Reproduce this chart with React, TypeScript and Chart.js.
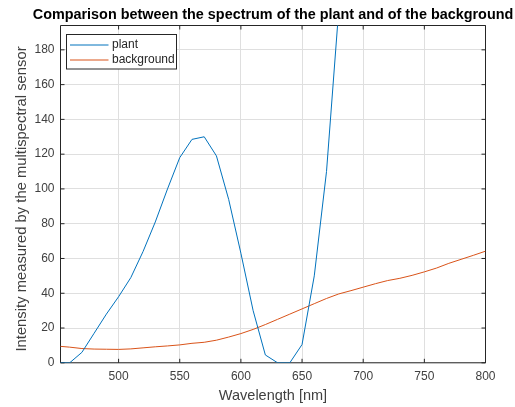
import React, { useEffect, useRef } from 'react';
import { Chart, registerables } from 'chart.js';

Chart.register(...registerables);

const chartTitle = 'Comparison between the spectrum of the plant and of the background';
const xAxisLabel = 'Wavelength [nm]';
const yAxisLabel = 'Intensity measured by the multispectral sensor';
const seriesNames = ['plant', 'background'];

const wavelengths = [
  450, 460, 470, 480, 490, 500, 510, 520, 530, 540, 550, 560, 570, 580, 590, 600, 610, 620,
  630, 640, 650, 660, 670, 680, 690, 700, 710, 720, 730, 740, 750, 760, 770, 780, 790, 800,
];
const plantValues = [
  0, 0, 6, 17, 28, 38, 49, 64, 81, 100, 118, 128.5, 130, 119, 94, 63, 30, 4.5,
  0, 0, 10.5, 50, 110, 203,
];
const backgroundValues = [
  9.6, 9.0, 8.2, 7.9, 7.8, 7.7, 8.0, 8.6, 9.2, 9.7, 10.3, 11.2, 11.8, 13.0, 14.8, 16.8, 19.2, 22.0,
  25.0, 28.0, 31.0, 34.0, 37.0, 39.6, 41.5, 43.5, 45.5, 47.3, 48.6, 50.3, 52.3, 54.5, 57.2, 59.5, 61.8, 64.2,
];
const xTicks = [500, 550, 600, 650, 700, 750, 800];
const yTicks = [0, 20, 40, 60, 80, 100, 120, 140, 160, 180];

const X_MIN = 452.5;
const X_MAX = 800;
const Y_MIN = 0;
const Y_MAX = 194;

const COLORS = ['#0072BD', '#D95319'];
const AXIS_COLOR = '#262626';
const LABEL_COLOR = '#404040';
const GRID_COLOR = '#dfdfdf';
const FONT = '"Liberation Sans", Arial, Helvetica, sans-serif';

const boxPlugin = {
  id: 'matlabBox',
  beforeDatasetsDraw(chart: any) {
    const { ctx, chartArea } = chart;
    const { left, right, top, bottom } = chartArea;
    const xs = chart.scales.x;
    const ys = chart.scales.y;
    const tl = 4;
    ctx.save();
    ctx.strokeStyle = AXIS_COLOR;
    ctx.lineWidth = 1;
    ctx.beginPath();
    ctx.rect(left, top, right - left, bottom - top);
    ctx.stroke();
    ctx.beginPath();
    xTicks.forEach((v) => {
      const px = xs.getPixelForValue(v);
      ctx.moveTo(px, bottom);
      ctx.lineTo(px, bottom - tl);
      ctx.moveTo(px, top);
      ctx.lineTo(px, top + tl);
    });
    yTicks.forEach((v) => {
      const py = ys.getPixelForValue(v);
      ctx.moveTo(left, py);
      ctx.lineTo(left + tl, py);
      ctx.moveTo(right, py);
      ctx.lineTo(right - tl, py);
    });
    ctx.stroke();
    ctx.restore();
  },
  afterDraw(chart: any) {
    const { ctx, chartArea } = chart;
    ctx.save();
    // title
    ctx.fillStyle = '#000';
    ctx.font = `bold 14.4px ${FONT}`;
    ctx.textAlign = 'center';
    ctx.textBaseline = 'alphabetic';
    ctx.fillText(chartTitle, (chartArea.left + chartArea.right) / 2, 19);
    // y axis title
    ctx.save();
    ctx.translate(21.7, 199);
    ctx.rotate(-Math.PI / 2);
    ctx.fillStyle = LABEL_COLOR;
    ctx.font = `14.8px ${FONT}`;
    ctx.textAlign = 'center';
    ctx.textBaseline = 'middle';
    ctx.fillText(yAxisLabel, 0, 0);
    ctx.restore();
    // legend
    const bx = chartArea.left + 6;
    const by = chartArea.top + 9;
    const bw = 110;
    const bh = 34.5;
    ctx.fillStyle = '#fff';
    ctx.fillRect(bx, by, bw, bh);
    ctx.strokeStyle = AXIS_COLOR;
    ctx.lineWidth = 1;
    ctx.strokeRect(bx, by, bw, bh);
    chart.data.datasets.forEach((ds: any, i: number) => {
      const y = by + 10.5 + i * 15;
      ctx.strokeStyle = ds.borderColor;
      ctx.lineWidth = 1;
      ctx.beginPath();
      ctx.moveTo(bx + 3.5, y);
      ctx.lineTo(bx + 42, y);
      ctx.stroke();
      ctx.fillStyle = AXIS_COLOR;
      ctx.font = `12px ${FONT}`;
      ctx.textAlign = 'left';
      ctx.textBaseline = 'middle';
      ctx.fillText(ds.label, bx + 45.5, y);
    });
    ctx.restore();
  },
};

export default function App() {
  const canvasRef = useRef<HTMLCanvasElement | null>(null);

  useEffect(() => {
    document.body.style.margin = '0';
    const canvas = canvasRef.current;
    if (!canvas) return;
    const chart = new Chart(canvas, {
      type: 'line',
      data: {
        datasets: [
          {
            label: seriesNames[0],
            data: plantValues.map((v, i) => ({ x: wavelengths[i], y: v })),
            borderColor: COLORS[0],
            backgroundColor: COLORS[0],
            borderWidth: 1,
            pointRadius: 0,
            tension: 0,
          },
          {
            label: seriesNames[1],
            data: backgroundValues.map((v, i) => ({ x: wavelengths[i], y: v })),
            borderColor: COLORS[1],
            backgroundColor: COLORS[1],
            borderWidth: 1,
            pointRadius: 0,
            tension: 0,
          },
        ],
      },
      options: {
        responsive: false,
        animation: false,
        events: [],
        layout: { padding: { top: 25.5, right: 29.5, left: 0, bottom: 0 } },
        plugins: {
          legend: { display: false },
          title: { display: false },
          tooltip: { enabled: false },
        },
        scales: {
          x: {
            type: 'linear',
            min: X_MIN,
            max: X_MAX,
            afterBuildTicks: (scale: any) => {
              scale.ticks = xTicks.map((v) => ({ value: v }));
            },
            afterFit: (scale: any) => {
              scale.height = 44.2;
            },
            grid: { color: GRID_COLOR, drawTicks: false, lineWidth: 1 },
            border: { display: false },
            ticks: {
              padding: 7,
              color: LABEL_COLOR,
              font: { family: FONT, size: 12 },
              maxRotation: 0,
              callback: (v: any) => String(v),
            },
            title: {
              display: true,
              text: xAxisLabel,
              color: LABEL_COLOR,
              font: { family: FONT, size: 14.5 },
              padding: { top: 0, bottom: 2 },
            },
          },
          y: {
            type: 'linear',
            min: Y_MIN,
            max: Y_MAX,
            afterBuildTicks: (scale: any) => {
              scale.ticks = yTicks.map((v) => ({ value: v }));
            },
            afterFit: (scale: any) => {
              scale.width = 60.5;
            },
            grid: { color: GRID_COLOR, drawTicks: false, lineWidth: 1 },
            border: { display: false },
            ticks: {
              padding: 6,
              color: LABEL_COLOR,
              font: { family: FONT, size: 12 },
              callback: (v: any) => String(v),
            },
            title: { display: false },
          },
        },
      },
      plugins: [boxPlugin],
    } as any);
    return () => chart.destroy();
  }, []);

  return (
    <div style={{ width: 515, height: 407 }}>
      <canvas ref={canvasRef} width={515} height={407} style={{ display: 'block' }} />
    </div>
  );
}
